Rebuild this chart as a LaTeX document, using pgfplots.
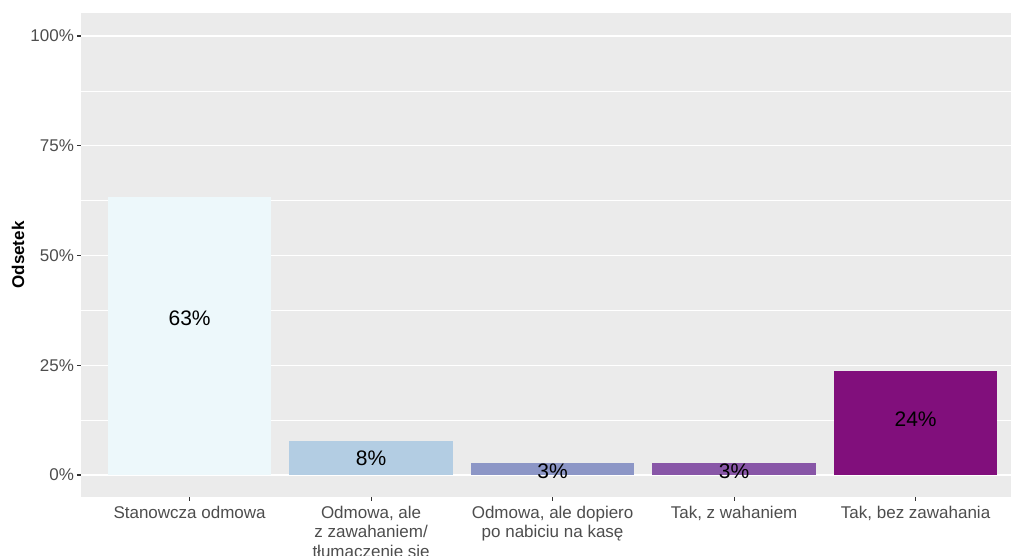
\documentclass[border=0pt]{standalone}
\usepackage{fontspec}
\setmainfont{Liberation Sans}
\usepackage{pgfplots}
\pgfplotsset{compat=1.18}
\definecolor{panelbg}{HTML}{EBEBEB}
\definecolor{tickdark}{HTML}{333333}
\definecolor{tickgray}{HTML}{4D4D4D}
\definecolor{cA}{HTML}{EDF8FB}
\definecolor{cB}{HTML}{B3CDE3}
\definecolor{cC}{HTML}{8C96C6}
\definecolor{cD}{HTML}{8856A7}
\definecolor{cE}{HTML}{810F7C}
\begin{document}
\begin{tikzpicture}
\begin{axis}[
  at={(0,0)}, anchor=south west,
  scale only axis, width=943.8pt, height=484pt,
  xmin=-0.6, xmax=4.6, ymin=-5.01, ymax=105.24,
  axis background/.style={fill=panelbg},
  axis line style={draw=none},
  ybar, bar width=0.9, bar shift=0pt,
  xtick={0,1,2,3,4},
  xticklabels={Stanowcza odmowa,{Odmowa, ale\\z zawahaniem/\\tłumaczenie się},{Odmowa, ale dopiero\\po nabiciu na kasę},{Tak, z wahaniem},{Tak, bez zawahania}},
  xticklabel style={align=center, font=\fontsize{17}{19.5}\selectfont, text=tickgray, inner sep=0pt, yshift=-5pt},
  ytick={0,25,50,75,100},
  yticklabels={0\%,25\%,50\%,75\%,100\%},
  yticklabel style={font=\fontsize{17}{19.5}\selectfont, text=tickgray, inner sep=0pt, xshift=-2.9pt},
  minor ytick={12.5,37.5,62.5,87.5},
  ymajorgrids, yminorgrids,
  major grid style={white, line width=1.07pt},
  minor grid style={white, line width=0.53pt},
  tick align=outside, tick pos=left,
  major tick length=3.7pt, minor tick length=0pt,
  major tick style={tickdark, line width=1.07pt},
  ylabel={Odsetek},
  every axis y label/.style={at={(axis description cs:-0.0664,0.5)}, anchor=center, rotate=90, font=\fontsize{17}{19.5}\selectfont\bfseries},
]
\addplot[fill=cA, draw=none] coordinates {(0,63.4)};
\addplot[fill=cB, draw=none] coordinates {(1,7.7)};
\addplot[fill=cC, draw=none] coordinates {(2,2.7)};
\addplot[fill=cD, draw=none] coordinates {(3,2.7)};
\addplot[fill=cE, draw=none] coordinates {(4,23.7)};
\addplot[only marks, mark=none, point meta=explicit symbolic,
  nodes near coords, nodes near coords align={center},
  every node near coord/.style={anchor=center, font=\fontsize{21}{24}\selectfont, text=black}]
  coordinates {(0,35.8) [63\%] (1,3.8) [8\%] (2,0.75) [3\%] (3,0.75) [3\%] (4,12.8) [24\%]};
\end{axis}
\pgfresetboundingbox
\path[use as bounding box] (-80.7pt,-58pt) rectangle (930.3pt,497pt);
\end{tikzpicture}
\end{document}
